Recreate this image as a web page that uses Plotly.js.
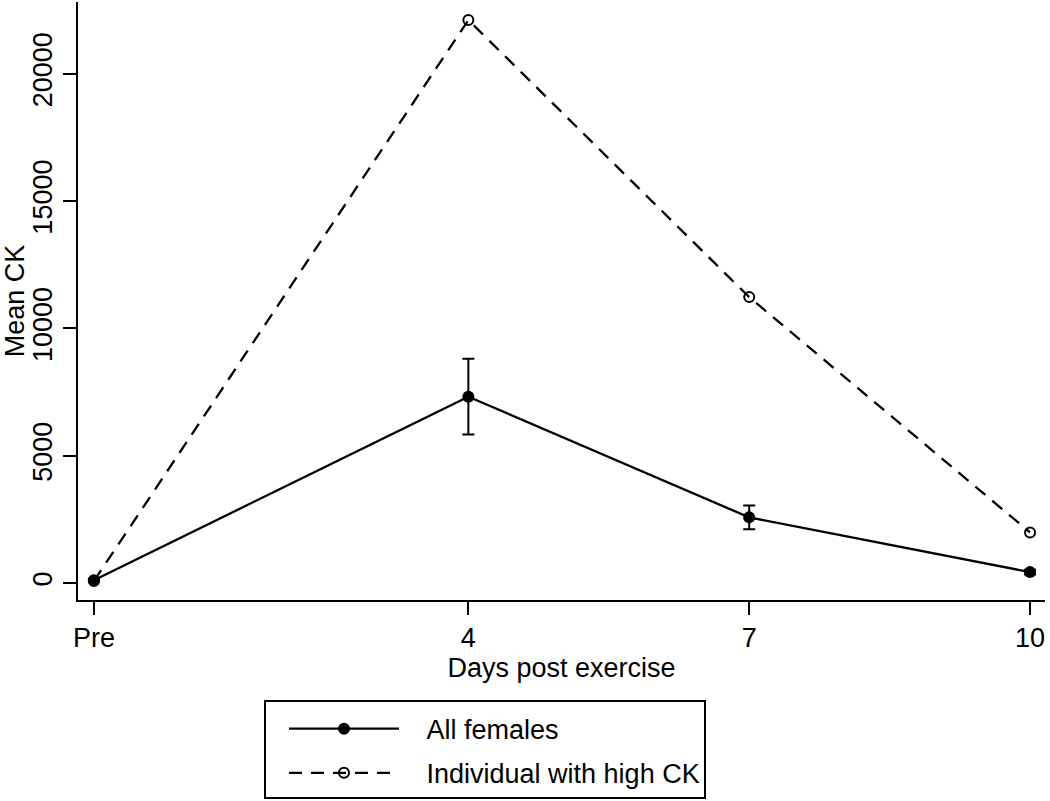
<!DOCTYPE html>
<html><head><meta charset="utf-8">
<script src="https://cdn.plot.ly/plotly-3.0.1.min.js"></script>
<style>html,body{margin:0;padding:0;background:#fff}#chart{width:1050px;height:801px}</style>
</head><body><div id="chart"></div>
<script>
const days = [0, 4, 7, 10];
const dayLabels = ['Pre', '4', '7', '10'];
const allFemalesMean = [110, 7320, 2580, 430];
const allFemalesErr = [60, 1490, 470, 90];
const highCK = [80, 22110, 11230, 1990];
const yTicks = [0, 5000, 10000, 15000, 20000];
const yTickLabels = ['0', '5000', '10000', '15000', '20000'];
const seriesNames = ['All females', 'Individual with high CK'];

const font = {family: 'Liberation Sans, Arial, sans-serif', color: '#000'};
const F = (s) => Object.assign({size: s}, font);
const pad = '\u00a0\u00a0\u00a0';

const traces = [
  {
    x: days, y: allFemalesMean, name: pad + seriesNames[0], type: 'scatter', mode: 'lines+markers',
    legendgroup: 'a',
    line: {color: '#000', width: 2.3},
    marker: {symbol: 'circle', size: 12, color: '#000'},
    error_y: {type: 'data', array: allFemalesErr, visible: true, color: '#000', thickness: 2, width: 6}
  },
  {
    x: days, y: highCK, name: pad + seriesNames[1], type: 'scatter', mode: 'lines+markers',
    legendgroup: 'b',
    line: {color: '#000', width: 2.3, dash: '13px,9px'},
    marker: {symbol: 'circle-open', size: 10, color: '#000', line: {width: 2, color: '#000'}}
  }
];

const layout = {
  width: 1050, height: 801,
  paper_bgcolor: '#fff', plot_bgcolor: '#fff',
  margin: {l: 78, r: 5, t: 2, b: 201},
  showlegend: true,
  font: F(27),
  xaxis: {
    range: [-0.17, 10.16], tickvals: days, ticktext: dayLabels,
    showline: true, linewidth: 2, linecolor: '#000', ticks: 'outside', ticklen: 13, tickwidth: 2, tickcolor: '#000',
    showgrid: false, zeroline: false, tickfont: F(27),
    title: {text: 'Days post exercise', font: F(27), standoff: 0}
  },
  yaxis: {
    range: [-665, 22820], tickvals: yTicks, ticktext: yTickLabels, tickangle: -90,
    showline: true, linewidth: 2, linecolor: '#000', ticks: 'outside', ticklen: 13, tickwidth: 2, tickcolor: '#000',
    showgrid: false, zeroline: false, tickfont: F(27),
    title: {text: 'Mean CK', font: F(27), standoff: 0}
  },
  legend: {
    x: (284 - 78) / 967, y: -0.175, xanchor: 'left', yanchor: 'top',
    borderwidth: 0, bgcolor: 'rgba(0,0,0,0)',
    itemwidth: 110, font: F(27),
    tracegroupgap: 6
  },
  shapes: [{
    type: 'rect', xref: 'paper', yref: 'paper',
    x0: (265 - 78) / 967, x1: (705 - 78) / 967,
    y0: (600 - 701) / 598, y1: (600 - 798) / 598,
    line: {color: '#000', width: 2}, fillcolor: 'rgba(0,0,0,0)'
  }]
};

Plotly.newPlot('chart', traces, layout, {displayModeBar: false, staticPlot: true});
</script></body></html>
